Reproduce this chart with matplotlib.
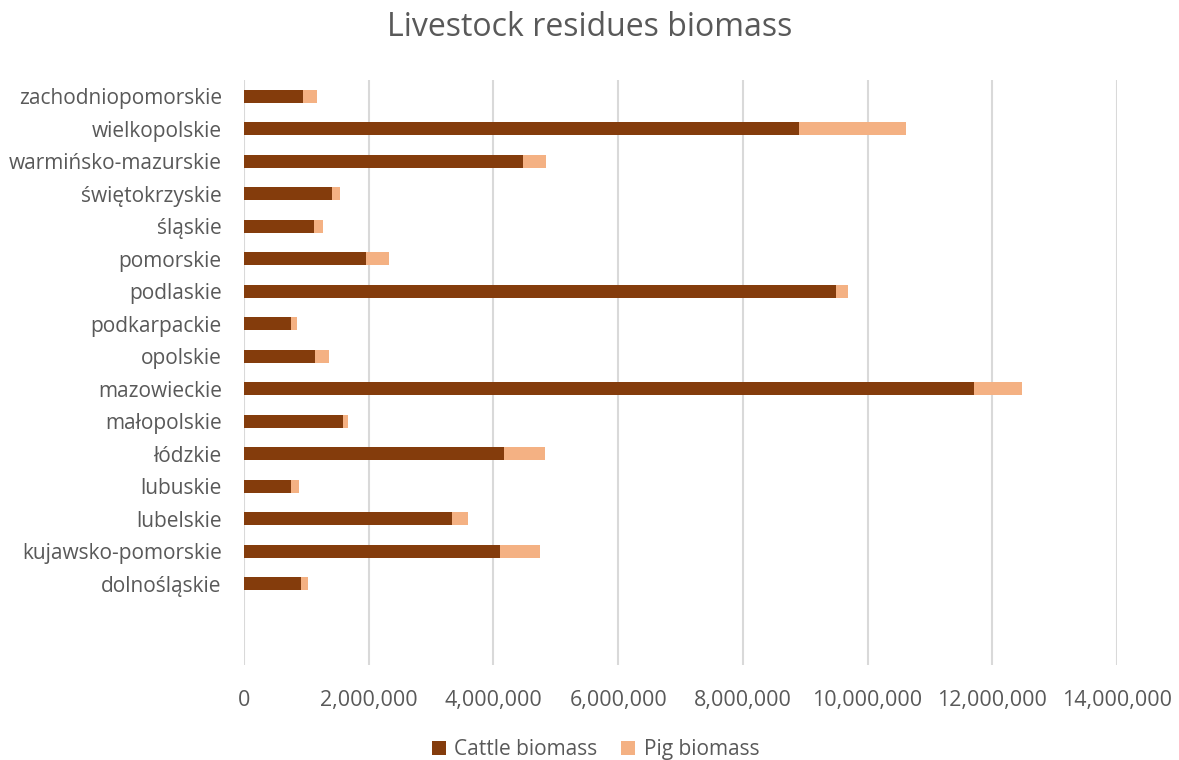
import matplotlib
matplotlib.use("Agg")
import matplotlib.pyplot as plt
from matplotlib.ticker import FuncFormatter

CATTLE, PIG, GRID, TXT = "#843C0C", "#F4B183", "#D9D9D9", "#595959"
plt.rcParams.update({"font.family": ["Open Sans", "DejaVu Sans"]})

# bottom to top, as drawn
regions = ["dolnośląskie", "kujawsko-pomorskie", "lubelskie", "lubuskie", "łódzkie",
           "małopolskie", "mazowieckie", "opolskie", "podkarpackie", "podlaskie",
           "pomorskie", "śląskie", "świętokrzyskie", "warmińsko-mazurskie",
           "wielkopolskie", "zachodniopomorskie"]
cattle = [920000, 4100000, 3340000, 760000, 4170000, 1595000, 11700000, 1135000,
          760000, 9490000, 1950000, 1130000, 1410000, 4480000, 8900000, 953000]
totals = [1030000, 4750000, 3590000, 885000, 4830000, 1670000, 12470000, 1360000,
          850000, 9680000, 2320000, 1270000, 1540000, 4840000, 10620000, 1167000]
pig = [t - c for t, c in zip(totals, cattle)]

fig = plt.figure(figsize=(11.79, 7.6), dpi=100)
ax = fig.add_axes([244 / 1179, 1 - 665 / 760, (1117 - 244) / 1179, (665 - 80) / 760])
y = range(len(regions))
ax.barh(y, cattle, height=0.39, color=CATTLE, label="Cattle biomass", zorder=3)
ax.barh(y, pig, left=cattle, height=0.39, color=PIG, label="Pig biomass", zorder=3)

ax.set_xlim(0, 14000000)
ax.set_ylim(-2.5, 15.5)
ax.set_xticks(range(0, 14000001, 2000000))
ax.xaxis.set_major_formatter(FuncFormatter(lambda v, p: f"{int(v):,}"))
ax.set_yticks(list(y))
ax.set_yticklabels(regions)
ax.grid(axis="x", color=GRID, lw=1.5, zorder=0)
ax.tick_params(length=0, labelsize=15, colors=TXT)
ax.tick_params(axis="y", pad=16)
ax.tick_params(axis="x", labelsize=15.5, pad=18)
for s in ax.spines.values():
    s.set_visible(False)

fig.suptitle("Livestock residues biomass", y=0.985, fontsize=23, color=TXT)
fig.legend(loc="lower center", bbox_to_anchor=(0.505, -0.025), ncol=2, frameon=False,
           fontsize=15, labelcolor=TXT, handlelength=0.7, handleheight=0.7,
           columnspacing=1.1, handletextpad=0.4)
fig.savefig("out.png", dpi=100)
